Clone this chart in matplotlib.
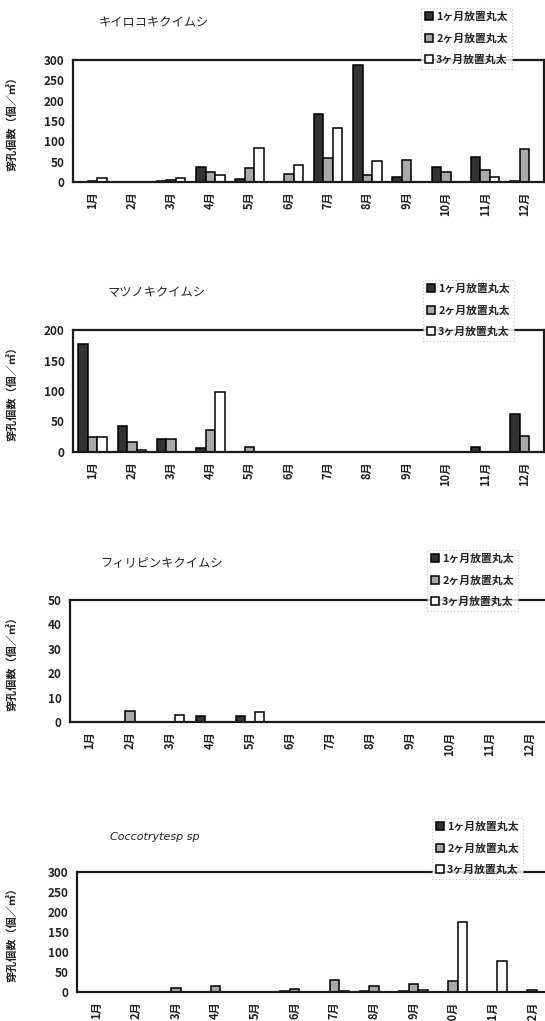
import matplotlib
matplotlib.use('Agg')
import matplotlib.pyplot as plt
import numpy as np

plt.rcParams['font.family'] = ['Noto Sans CJK JP', 'DejaVu Sans']

months = ['1月', '2月', '3月', '4月', '5月', '6月', '7月', '8月', '9月', '10月', '11月', '12月']
series_labels = ['1ヶ月放置丸太', '2ヶ月放置丸太', '3ヶ月放置丸太']
ylabel_text = '穿孔個数（個／㎡）'

# キイロコキクイムシ
kiiro_1m = [0, 0, 2, 38, 7, 0, 167, 288, 12, 36, 62, 2]
kiiro_2m = [2, 0, 6, 25, 34, 20, 60, 17, 53, 25, 29, 80]
kiiro_3m = [10, 0, 9, 16, 84, 43, 134, 51, 0, 0, 13, 0]

# マツノキクイムシ
matsu_1m = [177, 42, 22, 6, 0, 0, 0, 0, 0, 0, 8, 62]
matsu_2m = [24, 16, 21, 36, 8, 0, 0, 0, 0, 0, 0, 27]
matsu_3m = [24, 4, 0, 98, 0, 0, 0, 0, 0, 0, 0, 0]

# フィリピンキクイムシ
phil_1m = [0, 0, 0, 2.5, 2.5, 0, 0, 0, 0, 0, 0, 0]
phil_2m = [0, 4.5, 0, 0, 0, 0, 0, 0, 0, 0, 0, 0]
phil_3m = [0, 0, 3, 0, 4, 0, 0, 0, 0, 0, 0, 0]

# Coccotrytesp sp
cocco_1m = [0, 0, 0, 0, 0, 2, 0, 2, 2, 0, 0, 0]
cocco_2m = [0, 0, 10, 14, 0, 8, 30, 14, 21, 28, 0, 4]
cocco_3m = [0, 0, 0, 0, 0, 0, 3, 0, 4, 175, 77, 0]

titles = ['キイロコキクイムシ', 'マツノキクイムシ', 'フィリピンキクイムシ', 'Coccotrytesp sp']
ymaxes = [300, 200, 50, 300]
ysteps = [50, 50, 10, 50]
datasets = [(kiiro_1m, kiiro_2m, kiiro_3m),
            (matsu_1m, matsu_2m, matsu_3m),
            (phil_1m, phil_2m, phil_3m),
            (cocco_1m, cocco_2m, cocco_3m)]

W, H = 545, 1021
fig = plt.figure(figsize=(W / 100, H / 100), dpi=100)

# layout in pixels: (left, right, top, bottom)
boxes = [(73, 544, 60, 182), (73, 544, 330, 452), (70, 550, 600, 722), (77, 552, 872, 992)]
title_pos = [(99, 23), (108, 293), (100, 564), (110, 837)]
legend_pos = [(421, 8), (423, 280), (427, 550), (432, 818)]

face = ['#333333', '#a9a9a9', 'white']
bw = 0.24

for i in range(4):
    l, r, t, b = boxes[i]
    ax = fig.add_axes([l / W, 1 - b / H, (r - l) / W, (b - t) / H])
    x = np.arange(len(months))
    handles = []
    for k, vals in enumerate(datasets[i]):
        bars = ax.bar(x + (k - 1) * bw, vals, width=bw, color=face[k],
                      edgecolor='black', linewidth=1.1, label=series_labels[k])
        handles.append(bars)
    ax.set_xlim(-0.5, 11.5)
    ax.set_ylim(0, ymaxes[i])
    ax.set_yticks(np.arange(0, ymaxes[i] + 1, ysteps[i]))
    ax.set_xticks(x)
    ax.set_xticklabels(months, rotation=90, fontsize=8, fontweight='bold', color='#222222')
    ax.tick_params(axis='y', length=0, pad=6, labelsize=8.5, labelcolor='#222222')
    ax.tick_params(axis='x', length=0, pad=7)
    for lab in ax.get_yticklabels():
        lab.set_fontweight('bold')
    for sp in ax.spines.values():
        sp.set_linewidth(1.6)
        sp.set_color('#1a1a1a')
    ax.set_ylabel(ylabel_text, fontsize=8, fontweight='bold', color='#222222')
    ax.yaxis.set_label_coords((19 - l) / (r - l), 0.5)

    tx, ty = title_pos[i]
    if i == 3:
        fig.text(tx / W, 1 - ty / H, titles[i], fontsize=8, style='italic',
                 family='DejaVu Sans', va='center', ha='left', color='#222222')
    else:
        fig.text(tx / W, 1 - ty / H, titles[i], fontsize=8.8, va='center', ha='left', color='#222222')

    lx, ly = legend_pos[i]
    leg = ax.legend(handles=handles, loc='upper left',
                    bbox_to_anchor=(lx / W, 1 - ly / H), bbox_transform=fig.transFigure,
                    fontsize=7.8, frameon=True, fancybox=False, handlelength=0.75,
                    handleheight=0.75, handletextpad=0.3, labelspacing=1.04,
                    borderpad=0.35, borderaxespad=0)
    fr = leg.get_frame()
    fr.set_facecolor('white')
    fr.set_edgecolor('#bbbbbb')
    fr.set_linestyle((0, (1, 2)))
    fr.set_linewidth(0.8)
    for txt in leg.get_texts():
        txt.set_fontweight('bold')
        txt.set_color('#222222')

fig.savefig('out.png', dpi=100, facecolor='white')
